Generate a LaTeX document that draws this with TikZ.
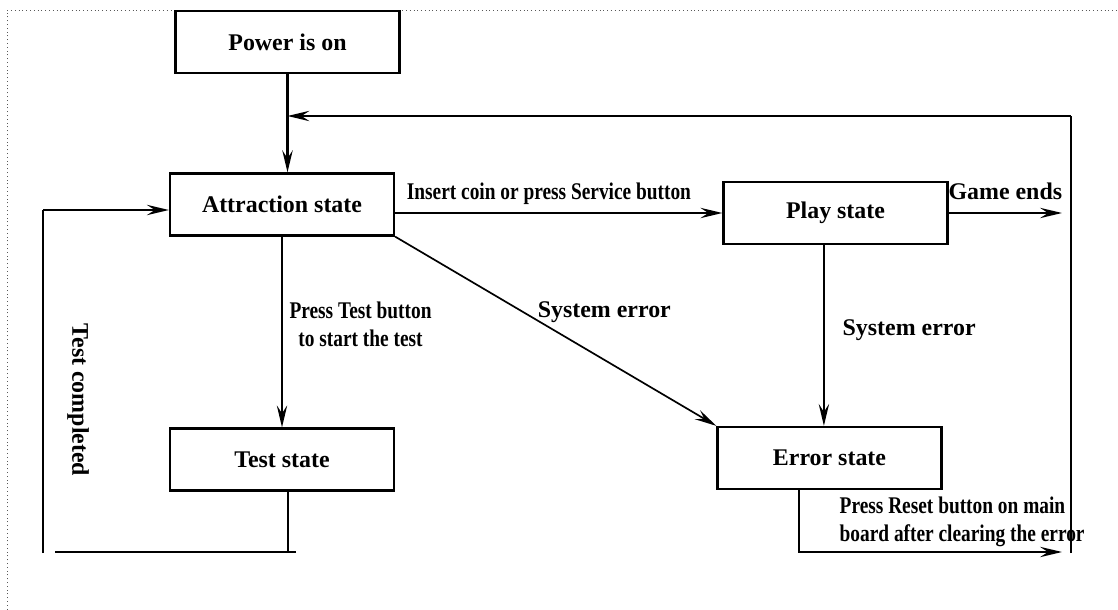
\documentclass[tikz,border=0pt]{standalone}
\usepackage{fontspec}
\setmainfont{Liberation Serif}
\newfontfamily\narrowfont[FakeStretch=0.81]{Liberation Serif}
\usetikzlibrary{arrows.meta}

\begin{document}
\begin{tikzpicture}[x=0.025cm,y=-0.025cm,
    state/.style={draw=black,line width=1.6pt,minimum width=5.6cm,minimum height=1.55cm,font=\fontsize{17}{20}\selectfont\bfseries},
    lbl/.style={font=\fontsize{17}{20}\selectfont\bfseries},
    narrow/.style={font=\fontsize{17}{19.5}\selectfont\narrowfont\bfseries},
    arr/.style={-{Stealth[length=0.55cm,width=0.26cm,inset=0.2cm]},line width=1.2pt},
    wire/.style={line width=1.2pt}]
    \useasboundingbox (0,0) rectangle (1118,610);
    \draw[gray!70!black,dotted,line width=0.7pt] (7,640) -- (7,10) -- (1140,10);

    \node[state] (A) at (287.5,42) {Power is on};
    \node[state] (B) at (282,204.5) {Attraction state};
    \node[state] (C) at (835.5,213) {Play state};
    \node[state] (D) at (829.5,458) {Error state};
    \node[state] (E) at (282,459.5) {Test state};

    \coordinate (R1) at (1071,553);
    \coordinate (R2) at (1071,116);
    \coordinate (G) at (1062,217);
    \coordinate (Q) at (1062,552);
    \coordinate (T1) at (296,552);
    \coordinate (T2) at (55,552);
    \coordinate (T3) at (43,553);
    \coordinate (T4) at (43,210);

    \draw[arr,line width=1.8pt] (A.south) -- (A.south |- B.north);
    \draw[wire] (R1) -- (R2);
    \draw[arr] (R2) -- (R2 -| A.south);

    \path[arr] (B.east |- C.west) edge node[narrow,above=0.08cm,pos=0.47] {Insert coin or press Service button} (C.west);
    \path[arr] (C.east) edge node[lbl,above=0.2cm] {Game ends} (C.east -| G);
    \path[arr] ([xshift=-0.29cm]C.south) edge node[lbl,right=0.33cm,pos=0.47] {System error} ([xshift=-0.29cm]C.south |- D.north);
    \path[arr] (B.south east) edge node[lbl,anchor=base west,pos=0.427] {System error} (D.north west);
    \path[arr] (B.south) edge node[narrow,align=center,right=0.05cm,pos=0.46] {Press Test button\\to start the test} (B.south |- E.north);
    \draw[arr] ([xshift=-0.76cm]D.south) |- node[narrow,align=left,above,pos=0.81] {Press Reset button on main\\board after clearing the error} (Q);

    \draw[wire] ([xshift=0.15cm]E.south) -- ([xshift=0.15cm]E.south |- T1);
    \draw[wire] (T1) -- (T2);
    \draw[wire] (T3) -- (T4);
    \draw[arr] (T4) -- (T4 -| B.west);
    \node[lbl,rotate=-90] (L) at (78,400) {Test completed};

\end{tikzpicture}
\end{document}
